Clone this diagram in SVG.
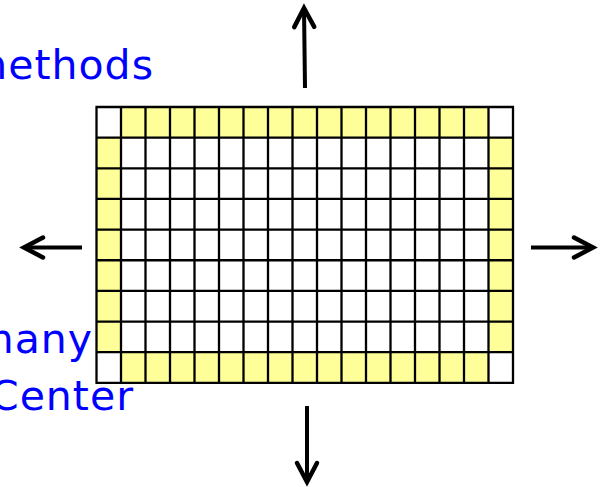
<svg xmlns="http://www.w3.org/2000/svg" width="606" height="487" viewBox="0 0 606 487">
  <style>
    .lbl { font-family: "DejaVu Sans", Verdana, sans-serif; font-size: 41px; fill: #0000ff; letter-spacing: 1px; }
    .edge { fill: #ffff99; stroke: none; }
    .grid { fill: none; stroke: #000; stroke-width: 2.3; }
    .arr { fill: none; stroke: #000; stroke-width: 4; marker-end: url(#head); }
  </style>
  <defs>
    <marker id="head" viewBox="-24 -14 30 28" refX="0" refY="0" markerWidth="30" markerHeight="28" markerUnits="userSpaceOnUse" orient="auto">
      <path d="M-19,-10 L0,0 L-19,10" fill="none" stroke="#000" stroke-width="4.5" stroke-linecap="round" stroke-linejoin="miter"/>
    </marker>
  </defs>
  <rect width="606" height="487" fill="#fff"/>

  <g id="labels">
    <text class="lbl" x="154" y="79" text-anchor="end">methods</text>
    <text class="lbl" x="93" y="353" text-anchor="end">many</text>
    <text class="lbl" x="134" y="410" text-anchor="end">Center</text>
  </g>

  <g id="grid">
    <rect x="96.5" y="107" width="416.5" height="275.85" fill="#fff"/>
    <rect class="edge" x="121" y="107" width="367.5" height="30.65"/>
    <rect class="edge" x="121" y="352.2" width="367.5" height="30.65"/>
    <rect class="edge" x="96.5" y="137.65" width="24.5" height="214.55"/>
    <rect class="edge" x="488.5" y="137.65" width="24.5" height="214.55"/>
    <path class="grid" d="M96.5,107V382.85 M121,107V382.85 M145.5,107V382.85 M170,107V382.85 M194.5,107V382.85 M219,107V382.85 M243.5,107V382.85 M268,107V382.85 M292.5,107V382.85 M317,107V382.85 M341.5,107V382.85 M366,107V382.85 M390.5,107V382.85 M415,107V382.85 M439.5,107V382.85 M464,107V382.85 M488.5,107V382.85 M513,107V382.85 M95.4,107H514.1 M95.4,137.65H514.1 M95.4,168.3H514.1 M95.4,198.95H514.1 M95.4,229.6H514.1 M95.4,260.25H514.1 M95.4,290.9H514.1 M95.4,321.55H514.1 M95.4,352.2H514.1 M95.4,382.85H514.1"/>
  </g>

  <g id="connectors">
    <path class="arr" d="M305,88 L304,8"/>
    <path class="arr" d="M307,406 L307,482"/>
    <path class="arr" d="M82,247.5 L24,247.5"/>
    <path class="arr" d="M531,247.5 L593,247.5"/>
  </g>
</svg>
